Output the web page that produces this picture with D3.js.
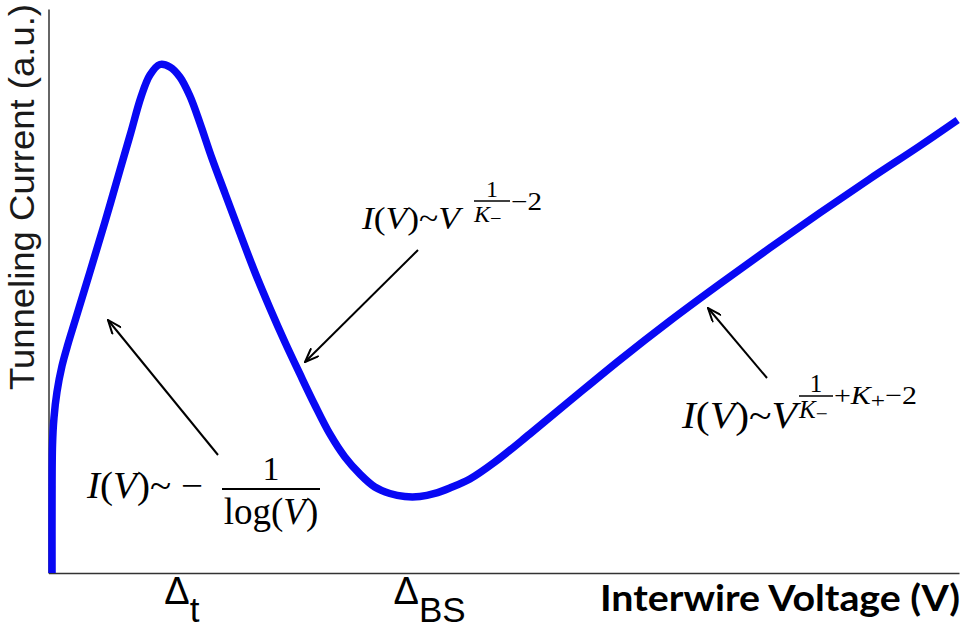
<!DOCTYPE html>
<html>
<head>
<meta charset="utf-8">
<script src="https://cdn.jsdelivr.net/npm/d3@7"></script>
<style>
  html, body { margin: 0; padding: 0; background: #fff; }
  svg { display: block; }
</style>
</head>
<body>
<svg id="chart" width="968" height="628"></svg>
<script>
// ---- data (arbitrary units) ----
const voltage = [0.039,0.039,0.044,0.060,0.093,0.148,0.214,0.291,0.455,0.620,0.785,0.906,1.016,1.114,1.224,1.333,1.443,1.553,1.663,1.794,1.937,2.102,2.266,2.431,2.596,2.761,2.925,3.090,3.255,3.420,3.584,3.749,3.914,4.079,4.243,4.408,4.628,4.902,5.286,5.725,6.274,6.823,7.372,7.921,8.470,9.019,9.568,9.985];
const current = [0,1.294,2.270,2.748,3.209,3.670,4.060,4.468,5.337,6.223,7.145,7.819,8.440,8.830,9.016,8.972,8.794,8.457,7.979,7.358,6.738,6.028,5.337,4.699,4.096,3.529,2.979,2.465,2.057,1.755,1.525,1.410,1.356,1.356,1.410,1.507,1.667,1.968,2.465,3.050,3.777,4.468,5.124,5.762,6.383,6.986,7.571,8.032];
const tickValues = [1.46, 4.18];
const tickMain = ["\u0394", "\u0394"];
const tickSub = ["t", "BS"];
const xTitle = "Interwire Voltage (V)";
const yTitle = "Tunneling Current (a.u.)";

const svg = d3.select("#chart");
const x = d3.scaleLinear().domain([0, 10]).range([48.5, 959]);
const y = d3.scaleLinear().domain([0, 10]).range([573, 9]);

// axes (no ticks)
const xAxis = svg.append("g").attr("transform", `translate(0,${y(0)})`)
  .call(d3.axisBottom(x).tickValues(tickValues).tickSize(0).tickSizeOuter(0).tickFormat(""));
xAxis.select(".domain").attr("stroke", "#333").attr("stroke-width", 1.5);
const yAxis = svg.append("g").attr("transform", `translate(${x(0)},0)`)
  .call(d3.axisLeft(y).tickValues([]).tickSize(0).tickSizeOuter(0));
yAxis.select(".domain").attr("stroke", "#333").attr("stroke-width", 1.5);

// tick labels Δt, ΔBS
xAxis.selectAll(".tick text").remove();
xAxis.selectAll(".tick").each(function(d, i) {
  const t = d3.select(this).append("text")
    .attr("fill", "#000")
    .attr("font-family", "Liberation Sans, Arial, sans-serif")
    .attr("text-anchor", "middle")
    .attr("y", 31)
    .attr("font-size", 38);
  t.append("tspan").text(tickMain[i]);
  t.append("tspan").attr("dy", 18).attr("font-size", 35).text(tickSub[i]);
});

// curve
const pts = voltage.map((v, i) => [v, current[i]]);
const line = d3.line().x(d => x(d[0])).y(d => y(d[1])).curve(d3.curveCatmullRom.alpha(0.5));
svg.append("path").datum(pts)
  .attr("d", line)
  .attr("fill", "none")
  .attr("stroke", "#0808f4")
  .attr("stroke-width", 7.5)
  .attr("stroke-linejoin", "round");

// axis titles
svg.append("text")
  .attr("transform", "translate(34,197) rotate(-90)")
  .attr("text-anchor", "middle")
  .attr("font-family", "Liberation Sans, Arial, sans-serif")
  .attr("font-size", 35)
  .attr("textLength", 386)
  .attr("lengthAdjust", "spacingAndGlyphs")
  .attr("fill", "#1a1a1a")
  .text(yTitle);

svg.append("text")
  .attr("x", 600).attr("y", 611)
  .attr("font-family", "Lato, 'Open Sans', sans-serif")
  .attr("font-weight", "bold")
  .attr("font-size", 36)
  .attr("textLength", 360)
  .attr("lengthAdjust", "spacingAndGlyphs")
  .attr("fill", "#000")
  .text(xTitle);

// arrows
const defs = svg.append("defs");
defs.append("marker")
  .attr("id", "arr")
  .attr("viewBox", "0 0 16 12")
  .attr("refX", 15).attr("refY", 6)
  .attr("markerWidth", 16).attr("markerHeight", 12)
  .attr("markerUnits", "userSpaceOnUse")
  .attr("orient", "auto")
  .append("path")
  .attr("d", "M1,0.5 L15,6 L1,11.5")
  .attr("fill", "none").attr("stroke", "#000").attr("stroke-width", 2);

const arrows = [[218,455,108,320],[418,250,305,362],[767,378,708,308]];
arrows.forEach(a => {
  svg.append("line")
    .attr("x1", a[0]).attr("y1", a[1]).attr("x2", a[2]).attr("y2", a[3])
    .attr("stroke", "#000").attr("stroke-width", 2)
    .attr("marker-end", "url(#arr)");
});

const serif = "Liberation Serif, 'Times New Roman', serif";
function txt(xp, yp, s, size, opts = {}) {
  return svg.append("text").attr("x", xp).attr("y", yp)
    .attr("font-family", serif).attr("font-size", size)
    .attr("font-style", opts.italic ? "italic" : "normal")
    .attr("text-anchor", opts.anchor || "start")
    .attr("fill", "#000")
    .text(s);
}
function mainFormula(xp, yp, size, width) {
  const t = svg.append("text").attr("x", xp).attr("y", yp)
    .attr("font-family", serif).attr("font-size", size).attr("fill", "#000");
  t.append("tspan").attr("font-style", "italic").text("I");
  t.append("tspan").text("(");
  t.append("tspan").attr("font-style", "italic").text("V");
  t.append("tspan").text(")~");
  t.append("tspan").attr("font-style", "italic").text("V");
  if (width) t.attr("textLength", width).attr("lengthAdjust", "spacingAndGlyphs");
  return t;
}
function fracSup(xl, xr, yLine, size) {
  svg.append("line").attr("x1", xl).attr("x2", xr).attr("y1", yLine).attr("y2", yLine)
    .attr("stroke", "#000").attr("stroke-width", 1.6);
  txt((xl + xr) / 2, yLine - 4, "1", size, {anchor: "middle"});
  const k = svg.append("text").attr("x", xl).attr("y", yLine + size * 0.87)
    .attr("font-family", serif).attr("font-size", size).attr("fill", "#000");
  k.append("tspan").attr("font-style", "italic").text("K");
  k.append("tspan").attr("font-size", size * 0.85).attr("dy", 3).text("\u2212");
}

// formula 1: I(V) ~ V^(1/K- - 2)
mainFormula(362, 229, 31, 98);
fracSup(474, 510, 201, 24);
txt(511, 210, "\u22122", 25).attr("textLength", 31).attr("lengthAdjust", "spacingAndGlyphs");

// formula 2: I(V) ~ V^(1/K- + K+ - 2)
mainFormula(682, 428, 37, 115);
fracSup(799, 833, 396, 25);
{
  const t = svg.append("text").attr("x", 834).attr("y", 404)
    .attr("font-family", serif).attr("font-size", 26).attr("fill", "#000");
  t.append("tspan").text("+");
  t.append("tspan").attr("font-style", "italic").text("K");
  t.append("tspan").attr("font-size", 22).attr("dy", 4).text("+");
  t.append("tspan").attr("dy", -4).text("\u22122");
  t.attr("textLength", 83).attr("lengthAdjust", "spacingAndGlyphs");
}

// formula 3: I(V) ~ -1/log(V)
{
  const t = svg.append("text").attr("x", 87).attr("y", 498)
    .attr("font-family", serif).attr("font-size", 37).attr("fill", "#000");
  t.append("tspan").attr("font-style", "italic").text("I");
  t.append("tspan").text("(");
  t.append("tspan").attr("font-style", "italic").text("V");
  t.append("tspan").text(")~ \u2212");
  t.attr("textLength", 116).attr("lengthAdjust", "spacingAndGlyphs");
  svg.append("line").attr("x1", 222).attr("x2", 320).attr("y1", 489).attr("y2", 489)
    .attr("stroke", "#000").attr("stroke-width", 2);
  txt(271, 480, "1", 34, {anchor: "middle"});
  const b = svg.append("text").attr("x", 271).attr("y", 524)
    .attr("text-anchor", "middle")
    .attr("font-family", serif).attr("font-size", 37).attr("fill", "#000");
  b.append("tspan").text("log(");
  b.append("tspan").attr("font-style", "italic").text("V");
  b.append("tspan").text(")");
}
</script>
</body>
</html>
